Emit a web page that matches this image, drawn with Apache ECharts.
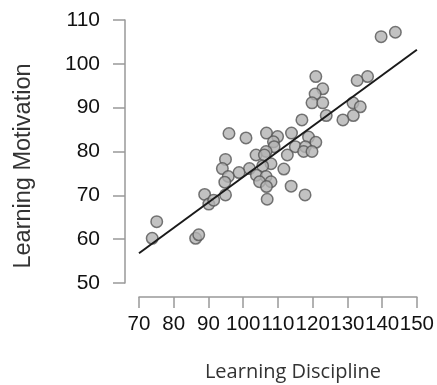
<!DOCTYPE html>
<html>
<head>
<meta charset="utf-8">
<script src="https://cdn.jsdelivr.net/npm/echarts@6/dist/echarts.min.js"></script>
<style>
html,body{margin:0;padding:0;background:#fff;}
#chart{width:437px;height:385px;}
</style>
</head>
<body>
<div id="chart"></div>
<script>
// Learning Discipline (x) values
const discipline = [143.8,139.7,120.9,135.8,132.8,122.9,120.7,119.8,122.9,131.6,133.7,123.9,131.7,116.9,128.7,
  95.9,100.8,106.7,109.9,113.9,118.8,108.7,120.9,108.9,115.0,117.9,106.6,117.4,119.8,103.7,106.1,112.7,
  94.9,108.0,105.6,94.0,101.8,111.7,98.8,95.7,103.8,106.6,94.7,104.7,108.0,106.7,113.8,88.9,94.9,117.8,
  106.9,90.1,91.5,75.1,73.8,86.3,87.2];
// Learning Motivation (y) values
const motivation = [107.2,106.2,97.1,97.1,96.2,94.3,93.1,91.1,91.1,91.1,90.2,88.2,88.2,87.2,87.2,
  84.1,83.1,84.2,83.4,84.2,83.3,82.2,82.1,81.1,81.1,81.1,80.0,80.0,80.0,79.2,79.2,79.2,
  78.2,77.2,76.7,76.1,76.1,76.0,75.2,74.3,74.6,74.3,73.0,73.1,73.1,72.0,72.1,70.2,70.1,70.1,
  69.1,68.0,68.9,64.0,60.2,60.2,61.0];
// Fitted regression line endpoints
const fitX = [70, 150];
const fitY = [56.8, 103.2];
const xTitle = 'Learning Discipline';
const yTitle = 'Learning Motivation';

const points = discipline.map((d, i) => [d, motivation[i]]);
const fitLine = fitX.map((d, i) => [d, fitY[i]]);

const chart = echarts.init(document.getElementById('chart'));
const font = 'Liberation Sans, Arial, sans-serif';
chart.setOption({
  animation:false,
  backgroundColor:'#fff',
  grid:{left:139, right:15, top:20, bottom:102},
  xAxis:{type:'value', min:70, max:150, interval:10, offset:14,
    axisLine:{show:true, lineStyle:{color:'#999', width:1.5}},
    axisTick:{show:true, length:11, lineStyle:{color:'#999', width:1.5}},
    axisLabel:{margin:17, color:'#111', fontSize:20.5, fontFamily:font, hideOverlap:false},
    splitLine:{show:false}},
  yAxis:{type:'value', min:50, max:110, interval:10, offset:14,
    axisLine:{show:true, lineStyle:{color:'#999', width:1.5}},
    axisTick:{show:true, length:12, lineStyle:{color:'#999', width:1.5}},
    axisLabel:{margin:25, color:'#111', fontSize:21, fontFamily:font},
    splitLine:{show:false}},
  graphic:[
    {type:'text', x:293, y:372, style:{text:xTitle, fill:'#333', font:'20px "Open Sans", sans-serif', align:'center', verticalAlign:'middle'}},
    {type:'text', x:24, y:166, rotation:Math.PI/2, style:{text:yTitle, fill:'#333', font:'23.5px "Liberation Sans", Arial, sans-serif', align:'center', verticalAlign:'middle'}}
  ],
  series:[
    {type:'scatter', data:points, symbol:'circle', symbolSize:11.5, z:2,
      itemStyle:{color:'#b3b3b3', borderColor:'#555', borderWidth:1.5}},
    {type:'line', data:fitLine, symbol:'none', z:3,
      lineStyle:{color:'#1a1a1a', width:2}}
  ]
});
</script>
</body>
</html>
